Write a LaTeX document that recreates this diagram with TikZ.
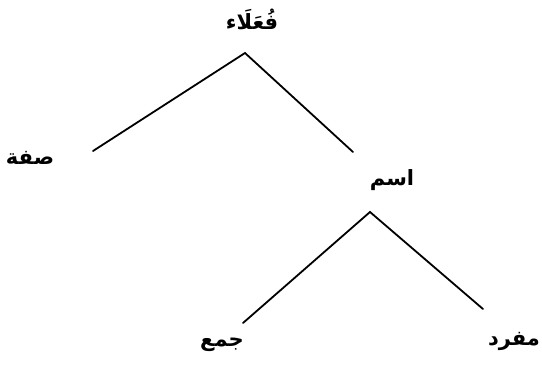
\documentclass[tikz,border=0pt]{standalone}
\usepackage{fontspec}
\newfontfamily\arabicfont[Script=Arabic]{DejaVu Sans}
\TeXXeTstate=1
\usetikzlibrary{positioning}
\begin{document}
\begin{tikzpicture}[x=1pt,y=-1pt,
  lbl/.style={font=\arabicfont\bfseries\fontsize{21}{25}\selectfont,inner sep=0pt},
  edge/.style={line width=1.8pt,line cap=round}]
\useasboundingbox[fill=white] (0,0) rectangle (542,378);

%--- labels ---
\node[lbl] (fuala) at (252,19)  {\beginR فُعَلَاء\endR};
\node[lbl] (sifa)  at (30,158)  {\beginR صفة\endR};
\node[lbl] (ism)   at (392,180) {\beginR اسم\endR};
\node[lbl] (jam)   at (222,345) {\beginR جمع\endR};
\node[lbl] (mufrad) at (514,341) {\beginR مفرد\endR};

%--- branch points ---
\coordinate (top)  at (245,53);
\coordinate (mid)  at (370,212);
\coordinate (sifaend) at (93,151);
\coordinate (ismend)  at (353,152);
\coordinate (jamend)  at (243,323);
\coordinate (mufend)  at (483,309);

%--- edges ---
\draw[edge] (sifaend) -- (top) -- (ismend);
\draw[edge] (jamend) -- (mid) -- (mufend);

\end{tikzpicture}
\end{document}
